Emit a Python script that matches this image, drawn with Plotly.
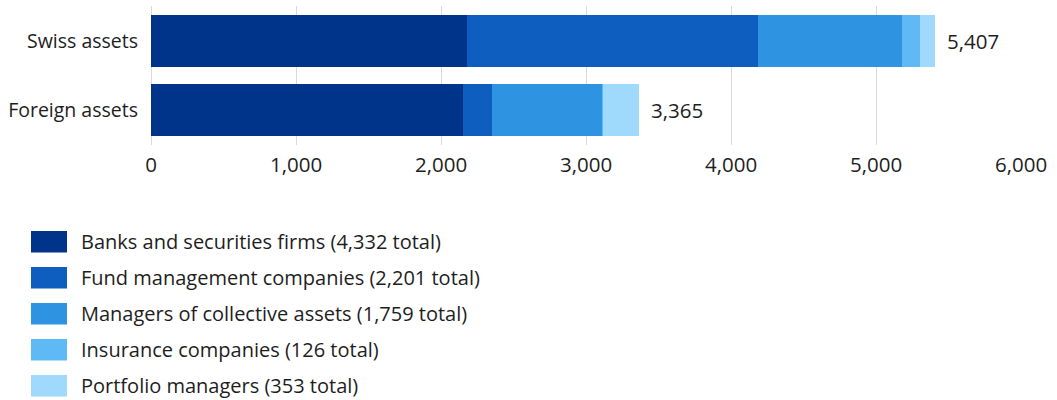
import plotly.graph_objects as go

# Asset categories (top to bottom) and per-category breakdown by institution type
categories = ["Swiss assets", "Foreign assets"]
series_names = [
    "Banks and securities firms (4,332 total)",
    "Fund management companies (2,201 total)",
    "Managers of collective assets (1,759 total)",
    "Insurance companies (126 total)",
    "Portfolio managers (353 total)",
]
banks = [2182, 2150]
fund_mgmt = [2001, 200]
collective = [996, 763]
insurance = [125, 1]
portfolio = [103, 251]
totals = [5407, 3365]
total_labels = ["5,407", "3,365"]
x_ticks = [0, 1000, 2000, 3000, 4000, 5000, 6000]
x_tick_labels = ["0", "1,000", "2,000", "3,000", "4,000", "5,000", "6,000"]

colors = ["#00338a", "#0d5ebf", "#2e93e0", "#5eb9f4", "#9fd9fc"]
series_values = [banks, fund_mgmt, collective, insurance, portfolio]

W, H = 1057, 400
M_L, M_R, M_T, M_B = 151, 36, 6, 255
FONT = "Open Sans"
TEXT = "#1e1e1e"

fig = go.Figure()
for name, vals, col in zip(series_names, series_values, colors):
    fig.add_trace(go.Bar(
        y=categories, x=vals, name=name, orientation="h",
        marker=dict(color=col, line=dict(width=0)),
        showlegend=False, hoverinfo="x+name",
    ))

# Totals to the right of each bar
for cat, tot, lab in zip(categories, totals, total_labels):
    fig.add_annotation(x=tot, y=cat, text=lab, showarrow=False,
                       xanchor="left", xshift=10,
                       font=dict(family=FONT, size=20.5, color=TEXT))

# Custom legend with large swatches below the chart
plot_h = H - M_T - M_B
def py_to_paper(py):
    return (H - M_B - py) / plot_h
def px_to_paper(px):
    return (px - M_L) / (W - M_L - M_R)

row_top = 231
row_step = 36
sw_h = 21.5
for i, (name, col) in enumerate(zip(series_names, colors)):
    y0 = row_top + i * row_step
    fig.add_shape(type="rect", xref="paper", yref="paper",
                  x0=px_to_paper(31), x1=px_to_paper(67),
                  y0=py_to_paper(y0 + sw_h), y1=py_to_paper(y0),
                  fillcolor=col, line=dict(width=0))
    fig.add_annotation(xref="paper", yref="paper",
                       x=px_to_paper(79), y=py_to_paper(y0 + sw_h / 2),
                       text=name, showarrow=False, xanchor="left", yanchor="middle",
                       font=dict(family=FONT, size=20, color=TEXT))

fig.update_layout(
    width=W, height=H,
    margin=dict(l=M_L, r=M_R, t=M_T, b=M_B),
    barmode="stack", bargap=0.25,
    plot_bgcolor="white", paper_bgcolor="white",
    font=dict(family=FONT, size=20, color=TEXT),
    xaxis=dict(range=[0, 6000], tickvals=x_ticks, ticktext=x_tick_labels,
               showgrid=True, gridcolor="#d5dae1", gridwidth=1,
               zeroline=True, zerolinecolor="#d5dae1", zerolinewidth=1,
               showline=False, ticks="", ticklabelstandoff=5,
               tickfont=dict(family=FONT, size=20.5, color=TEXT), fixedrange=True),
    yaxis=dict(autorange="reversed", showgrid=False, showline=False, ticks="",
               ticklabelstandoff=12,
               tickfont=dict(family=FONT, size=19.5, color=TEXT), fixedrange=True),
)

fig.write_html("out.html")
